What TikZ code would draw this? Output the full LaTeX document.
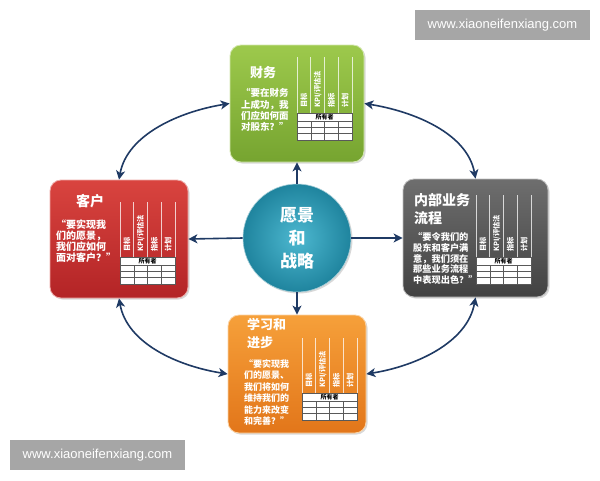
\documentclass[tikz,border=0pt]{standalone}
\usepackage{fontspec}
\setmainfont{Liberation Sans}
\newfontfamily\cjk{Noto Sans CJK SC}
\usetikzlibrary{arrows.meta,shadows,calc}
\definecolor{navy}{HTML}{1F3A64}
\definecolor{gA}{HTML}{9DC94C}
\definecolor{gB}{HTML}{76A430}
\definecolor{rA}{HTML}{D9443F}
\definecolor{rB}{HTML}{B32426}
\definecolor{kA}{HTML}{6E6E6E}
\definecolor{kB}{HTML}{424242}
\definecolor{oA}{HTML}{F6A03A}
\definecolor{oB}{HTML}{E2761A}
\definecolor{cA}{HTML}{4DB8D0}
\definecolor{cB}{HTML}{1F849E}
\definecolor{wmgray}{HTML}{A6A6A6}
\tikzset{
  box/.style n args={2}{rounded corners=11pt, inner sep=0pt, top color=#1, bottom color=#2,
     draw=white!55!#1, line width=0.8pt,
     drop shadow={opacity=0.3, shadow xshift=1.5pt, shadow yshift=-1.5pt}},
  ttl/.style={text=white, inner sep=0pt, align=left},
  qt/.style={text=white, inner sep=0pt, align=left},
  colline/.style={draw=white, opacity=0.75, line width=0.7pt},
  collab/.style={rotate=90, anchor=west, text=white, inner sep=0pt,
     font=\cjk\bfseries\fontsize{7.2}{7.2}\selectfont},
  tabline/.style={draw=black!65, line width=0.4pt},
  circ/.style={circle, minimum size=108pt, inner sep=0pt, inner color=cA, outer color=cB,
     draw=white!60!cB, line width=0.6pt, text=white, align=center,
     font=\cjk\bfseries\fontsize{17}{23}\selectfont,
     drop shadow={opacity=0.3, shadow xshift=1.5pt, shadow yshift=-1.5pt}},
  tip/.tip={Stealth[length=9pt,width=9pt,inset=2.5pt]},
  arr/.style={draw=navy, line width=1.6pt, -tip},
  dbl/.style={draw=navy, line width=1.6pt, tip-tip},
  wm/.style={fill=wmgray, text=white, minimum width=175pt, minimum height=30pt, inner sep=0pt,
     font=\fontsize{13}{13}\selectfont}
}
\newcommand\bsctab[3]{%
 \begin{scope}[shift={(#1,#2)}]
  \foreach \i in {0,...,4} \draw[colline] (\i*13.75,-#3) -- (\i*13.75,0);
  \foreach \t [count=\k from 0] in {目标,KPI/评估法,指标,计划}
    \node[collab] at (\k*13.75+6.875,-5) {\t};
  \fill[white] (0,0) rectangle (55,27);
  \draw[tabline] (0,0) rectangle (55,27);
  \draw[tabline] (0,8) -- (55,8) (0,14.3) -- (55,14.3) (0,20.6) -- (55,20.6);
  \foreach \i in {1,2,3} \draw[tabline] (\i*13.75,8) -- (\i*13.75,27);
  \node[inner sep=0pt, font=\cjk\bfseries\fontsize{6}{6}\selectfont] at (27.5,4.2) {所有者};
 \end{scope}}
\begin{document}
\begin{tikzpicture}[x=1pt,y=-1pt]
\useasboundingbox (0,0) rectangle (600,480);
\fill[white] (0,0) rectangle (600,480);

% boxes
\node[box={gA}{gB}, minimum width=134pt, minimum height=117pt] (fin) at (297,103.5) {};
\node[box={rA}{rB}, minimum width=138pt, minimum height=118pt] (cus) at (119,239) {};
\node[box={kA}{kB}, minimum width=145pt, minimum height=118pt] (int) at (475.5,238) {};
\node[box={oA}{oB}, minimum width=138pt, minimum height=118pt] (lrn) at (297,374) {};

% centre
\node[circ] (vis) at (297,238) {愿景\\和\\战略};

% tables
\bsctab{297}{113}{56}
\bsctab{120}{257}{55}
\bsctab{476}{257}{62}
\bsctab{302}{393}{55}

% titles
\node[ttl, font=\cjk\bfseries\fontsize{13}{16}\selectfont] (fint) at (263,73) {财务};
\node[ttl, font=\cjk\bfseries\fontsize{14}{16}\selectfont] (cust) at (90,201) {客户};
\node[ttl, font=\cjk\bfseries\fontsize{14}{18}\selectfont, anchor=west] (intt) at (414,209) {内部业务\\流程};
\node[ttl, font=\cjk\bfseries\fontsize{13}{18}\selectfont, anchor=west] (lrnt) at (247,334) {学习和\\进步};

% quotes
\node[qt, font=\cjk\bfseries\fontsize{9.5}{11.3}\selectfont, anchor=west] (finq) at (241,110) {“要在财务\\上成功，我\\们应如何面\\对股东？”};
\node[qt, font=\cjk\bfseries\fontsize{10}{11}\selectfont, anchor=west] (cusq) at (56,241.5) {“要实现我\\们的愿景，\\我们应如何\\面对客户？”};
\node[qt, font=\cjk\bfseries\fontsize{9.2}{10.7}\selectfont, anchor=west] (intq) at (413,258.5) {“要令我们的\\股东和客户满\\意，我们须在\\那些业务流程\\中表现出色？”};
\node[qt, font=\cjk\bfseries\fontsize{9}{11.4}\selectfont, anchor=west] (lrnq) at (244,392.5) {“要实现我\\们的愿景、\\我们将如何\\维持我们的\\能力来改变\\和完善？”};

% straight arrows
\draw[arr] (vis.north) -- (fin.south);
\draw[arr] (vis.south) -- (lrn.north);
\draw[arr] (vis.west) -- (cus.east);
\draw[arr] (vis.east) -- (int.west);

% curved double arrows
\draw[dbl] (fin.west) .. controls +(-50,8) and +(8,-45) .. (cus.north);
\draw[dbl] (fin.east) .. controls +(50,8) and +(-8,-45) .. (int.north);
\draw[dbl] (cus.south) .. controls +(8,45) and +(-50,-8) .. (lrn.west);
\draw[dbl] (int.south) .. controls +(-8,45) and +(50,-8) .. (lrn.east);

% watermarks
\node[wm] (wm1) at (502.5,25) {www.xiaoneifenxiang.com};
\node[wm] (wm2) at (97.5,455) {www.xiaoneifenxiang.com};
\end{tikzpicture}
\end{document}
